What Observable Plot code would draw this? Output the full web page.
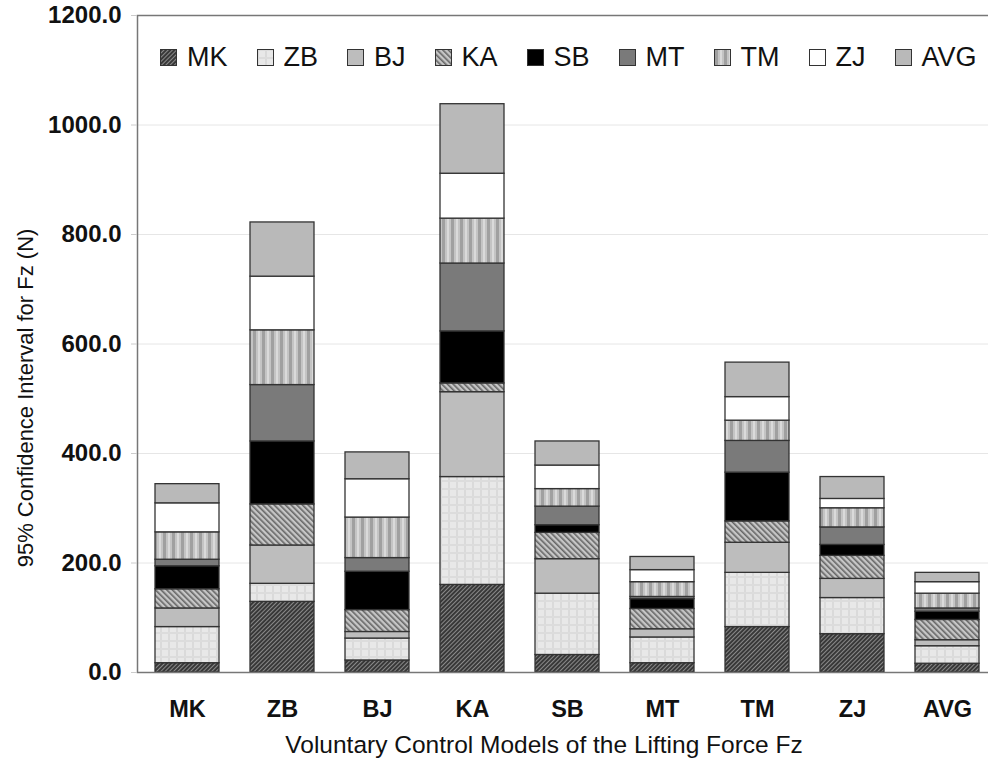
<!DOCTYPE html>
<html><head><meta charset="utf-8">
<script src="https://cdn.jsdelivr.net/npm/d3@7"></script>
<script src="https://cdn.jsdelivr.net/npm/@observablehq/plot@0.6"></script>
<style>
body{margin:0;background:#fff;font-family:"Liberation Sans",Arial,sans-serif;}
#wrap{position:relative;width:988px;height:762px;overflow:hidden;}
#legend{position:absolute;left:160px;top:44px;display:flex;align-items:center;font-size:27px;color:#111;line-height:1;}
.item{display:flex;align-items:center;margin-right:29px}
.item svg{margin-right:10px;display:block}
[aria-label="y-axis tick label"] text,[aria-label="x-axis tick label"] text{font-weight:bold;}
</style></head>
<body>
<svg width="0" height="0" style="position:absolute">
<defs>
<pattern id="pMK" width="3" height="3" patternUnits="userSpaceOnUse" patternTransform="rotate(45)">
 <rect width="3" height="3" fill="#383838"/><rect width="1" height="3" fill="#8a8a8a"/>
</pattern>
<pattern id="pZB" width="8" height="8" patternUnits="userSpaceOnUse">
 <rect width="8" height="8" fill="#e8e8e8"/><rect width="2" height="8" fill="#dadada"/><rect width="8" height="2" fill="#dcdcdc"/>
</pattern>
<pattern id="pBJ" width="4" height="4" patternUnits="userSpaceOnUse">
 <rect width="4" height="4" fill="#bdbdbd"/>
</pattern>
<pattern id="pKA" width="4" height="4" patternUnits="userSpaceOnUse" patternTransform="rotate(-45)">
 <rect width="4" height="4" fill="#c6c6c6"/><rect width="1.6" height="4" fill="#666"/>
</pattern>
<pattern id="pSB" width="4" height="4" patternUnits="userSpaceOnUse">
 <rect width="4" height="4" fill="#000"/>
</pattern>
<pattern id="pMT" width="4" height="4" patternUnits="userSpaceOnUse">
 <rect width="4" height="4" fill="#7a7a7a"/>
</pattern>
<pattern id="pTM" width="9" height="9" patternUnits="userSpaceOnUse">
 <rect width="9" height="9" fill="#c4c4c4"/><rect x="1" width="3" height="9" fill="#a0a0a0"/><rect x="6" width="2" height="9" fill="#dadada"/>
</pattern>
<pattern id="pZJ" width="4" height="4" patternUnits="userSpaceOnUse">
 <rect width="4" height="4" fill="#ffffff"/>
</pattern>
<pattern id="pAVG" width="4" height="4" patternUnits="userSpaceOnUse">
 <rect width="4" height="4" fill="#b9b9b9"/>
</pattern>
</defs>
</svg>
<div id="wrap"><div id="legend"></div></div>
<script>
const models = ["MK","ZB","BJ","KA","SB","MT","TM","ZJ","AVG"];
const series = ["MK","ZB","BJ","KA","SB","MT","TM","ZJ","AVG"];
const vMK  = [17, 129, 22, 160, 32, 17, 83, 70, 16];
const vZB  = [66, 33, 40, 197, 112, 47, 99, 66, 32];
const vBJ  = [34, 70, 12, 155, 63, 15, 55, 35, 11];
const vKA  = [35, 75, 40, 16, 48, 37, 39, 42, 37];
const vSB  = [42, 115, 70, 95, 14, 18, 89, 20, 15];
const vMT  = [12, 103, 25, 124, 34, 4, 58, 32, 6];
const vTM  = [50, 100, 74, 82, 32, 27, 37, 35, 27];
const vZJ  = [53, 98, 70, 82, 43, 22, 43, 17, 21];
const vAVG = [35, 99, 49, 127, 44, 24, 63, 40, 17];
const yTicks = [0, 200, 400, 600, 800, 1000, 1200];
const xTitle = "Voluntary Control Models of the Lifting Force Fz";
const yTitle = "95% Confidence Interval for Fz (N)";

const valuesBySeries = {MK: vMK, ZB: vZB, BJ: vBJ, KA: vKA, SB: vSB, MT: vMT, TM: vTM, ZJ: vZJ, AVG: vAVG};
const table = [];
for (const s of series) models.forEach((m, i) => table.push({model: m, series: s, value: valuesBySeries[s][i]}));
const fills = series.map(s => `url(#p${s})`);

const chart = Plot.plot({
  width: 988, height: 762,
  marginLeft: 137, marginRight: -8, marginTop: 15, marginBottom: 90,
  style: {fontFamily: '"Liberation Sans", Arial, sans-serif', color: "#111", background: "#fff"},
  x: {domain: models, paddingInner: 0.33, paddingOuter: 0.17, label: null},
  y: {domain: [0, 1200], label: null},
  color: {domain: series, range: fills},
  marks: [
    Plot.gridY(yTicks.slice(1, -1), {stroke: "#e6e6e6", strokeOpacity: 1}),
    Plot.barY(table, {x: "model", y: "value", fill: "series", z: "series", order: series, stroke: "#333", strokeWidth: 1.3}),
    Plot.frame({stroke: "#777", strokeWidth: 1.5}),
    Plot.axisY({ticks: yTicks, tickFormat: d => d.toFixed(1), tickSize: 6, tickPadding: 10, fontSize: 24, stroke: "#ccc", label: null}),
    Plot.axisX({tickSize: 0, tickPadding: 28, fontSize: 23.5, label: null}),
    Plot.text([xTitle], {text: d => d, frameAnchor: "bottom", lineAnchor: "middle", textAnchor: "middle", dy: 73, dx: -23, fontSize: 24.5}),
    Plot.text([yTitle], {text: d => d, frameAnchor: "left", textAnchor: "middle", lineAnchor: "middle", rotate: -90, dx: -112, dy: 54, fontSize: 22})
  ]
});
document.getElementById("wrap").prepend(chart);

const legend = document.getElementById("legend");
series.forEach((s, i) => {
  const it = document.createElement("div");
  it.className = "item";
  it.innerHTML = `<svg width="17" height="17"><rect x="0.5" y="0.5" width="16" height="16" fill="${fills[i]}" stroke="#333" stroke-width="1"/></svg><span>${s}</span>`;
  legend.appendChild(it);
});
</script>
</body></html>
